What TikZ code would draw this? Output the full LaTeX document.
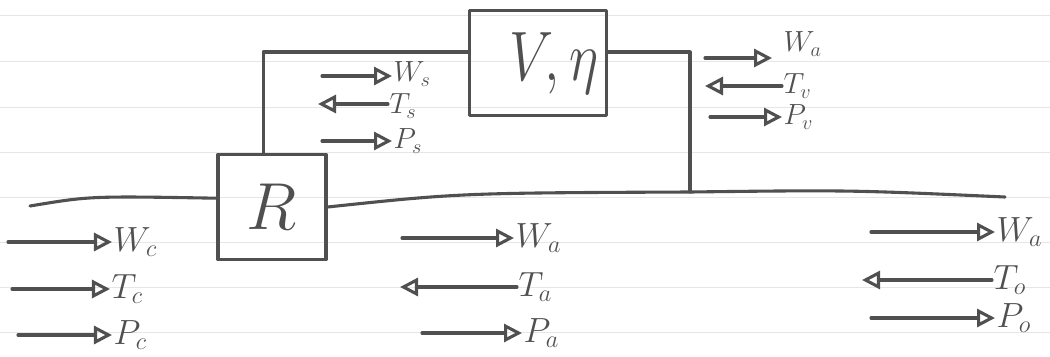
\documentclass[tikz,border=0pt]{standalone}
\usetikzlibrary{arrows.meta}
\definecolor{inkc}{HTML}{505050}
\definecolor{rulec}{HTML}{E6E6E6}
\begin{document}
\begin{tikzpicture}[x=0.025cm,y=-0.025cm,
  ink/.style={line width=2.2pt, draw=inkc, line cap=round, line join=round},
  flow/.style={ink, -{Triangle[open,length=0.45cm,width=0.45cm]}},
  lbl/.style={text=inkc, font=\fontsize{24}{26}\selectfont, inner sep=1pt, anchor=west},
  slbl/.style={lbl, font=\fontsize{21}{23}\selectfont},
  blockbox/.style={ink, minimum height=2.625cm, inner sep=0pt, text=inkc, font=\fontsize{24}{26}\selectfont},
  rule/.style={draw=rulec, line width=0.7pt}]
\useasboundingbox (0,0) rectangle (1050,356);
% ruled notebook lines
\foreach \yy in {15,61,107,152,197,242,287,332}
  \draw[rule] (0,\yy) -- (1050,\yy);
% blocks
\node[blockbox, minimum width=2.7cm, draw] (R) at (272,207) {\scalebox{1.9}{$R$}};
\node[blockbox, minimum width=3.425cm, draw] (V) at (538,63) {\hspace*{0.8cm}\scalebox{1.6}[2.0]{$V,\eta$}};
% junction coordinates
\coordinate (in) at (30,206);
\coordinate (j) at (690,192);
\coordinate (out) at (1005,197);
% main pipe
\draw[ink] (in) .. controls (90,196) .. ([yshift=0.22cm]R.west);
\draw[ink] (R.east) .. controls (460,193) .. (j) .. controls (850,190) .. (out);
% loop through V
\draw[ink] ([xshift=-0.22cm]R.north) |- ([yshift=0.275cm]V.west);
\draw[ink] ([yshift=0.275cm]V.east) -| (j);
% left group
\node[lbl] (wc) at (112,242) {$W_c$};
\node[lbl] (tc) at (110,289) {$T_c$};
\node[lbl] (pc) at (112,335) {$P_c$};
\draw[flow] ([xshift=-2.6cm]wc.west) -- (wc.west);
\draw[flow] ([xshift=-2.45cm]tc.west) -- (tc.west);
\draw[flow] ([xshift=-2.35cm]pc.west) -- (pc.west);
% middle group
\node[lbl] (wa) at (514,238) {$W_a$};
\node[lbl] (ta) at (517,287) {$T_a$};
\node[lbl] (pa) at (522,333) {$P_a$};
\draw[flow] ([xshift=-2.8cm]wa.west) -- (wa.west);
\draw[flow] (ta.west) -- ++(-117,0);
\draw[flow] ([xshift=-2.5cm]pa.west) -- (pa.west);
% right group
\node[lbl] (wo) at (995,232) {$W_a$};
\node[lbl] (to) at (992,280) {$T_o$};
\node[lbl] (po) at (995,318) {$P_o$};
\draw[flow] ([xshift=-3.1cm]wo.west) -- (wo.west);
\draw[flow] (to.west) -- ++(-130,0);
\draw[flow] ([xshift=-3.1cm]po.west) -- (po.west);
% top-left group (s)
\node[slbl] (ws) at (392,74) {$W_s$};
\node[slbl] (ts) at (388,106) {$T_s$};
\node[slbl] (ps) at (392,141) {$P_s$};
\draw[flow] ([xshift=-1.75cm,yshift=-0.05cm]ws.west) -- ([yshift=-0.05cm]ws.west);
\draw[flow] ([yshift=0.05cm]ts.west) -- ++(-70,0);
\draw[flow] ([xshift=-1.75cm]ps.west) -- (ps.west);
% top-right group (v)
\node[slbl] (wv) at (782,44) {$W_a$};
\node[slbl] (tv) at (782,86) {$T_v$};
\node[slbl] (pv) at (782,117) {$P_v$};
\coordinate (wvtip) at (772,58);
\draw[flow] (705,58) -- (wvtip);
\draw[flow] (tv.west) -- ++(-77,0);
\draw[flow] ([xshift=-1.8cm]pv.west) -- (pv.west);
\end{tikzpicture}
\end{document}
